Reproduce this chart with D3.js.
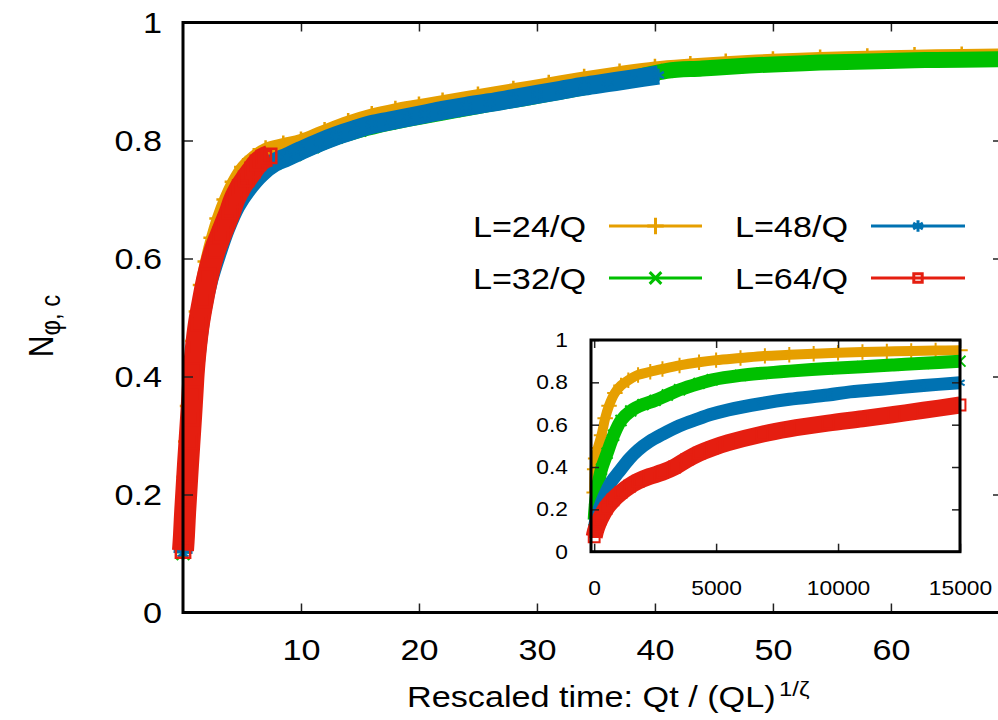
<!DOCTYPE html>
<html><head><meta charset="utf-8">
<script src="https://cdn.jsdelivr.net/npm/d3@7"></script>
<style>
html,body{margin:0;padding:0;background:#fff;}
svg{display:block;font-family:"Liberation Sans",Arial,Helvetica,sans-serif;}
</style></head>
<body>
<svg id="chart" width="998" height="720"></svg>
<script>
// ---------- data ----------
const seriesNames = ["L=24/Q", "L=32/Q", "L=48/Q", "L=64/Q"];
const seriesColors = ["#E69F00", "#00C000", "#0072B2", "#E51E10"];

// main plot: rescaled time vs N
const orangeX = [0, 0.1, 0.22, 0.35, 0.5, 0.7, 0.95, 1.25, 1.6, 2.0, 2.5, 3.0, 3.6, 4.3, 5.1, 6.0, 7.0, 8.5, 10, 12, 14, 16, 18, 20, 22, 25, 28, 31, 34, 37, 40, 43, 46, 50, 54, 58, 62, 66, 70];
const orangeY = [0.11, 0.17, 0.23, 0.29, 0.35, 0.41, 0.46, 0.51, 0.555, 0.595, 0.635, 0.668, 0.70, 0.73, 0.755, 0.772, 0.785, 0.793, 0.8, 0.816, 0.831, 0.843, 0.852, 0.859, 0.866, 0.876, 0.886, 0.896, 0.906, 0.915, 0.923, 0.928, 0.932, 0.936, 0.939, 0.941, 0.943, 0.944, 0.945];

const greenX = [0, 0.1, 0.25, 0.42, 0.62, 0.88, 1.2, 1.6, 2.2, 2.9, 3.7, 4.6, 5.6, 6.6, 7.8, 9.5, 11, 13, 15, 17.5, 20, 23, 26, 29, 32, 35, 38, 41, 44, 47, 50, 54, 58, 62, 66, 70];
const greenY = [0.1, 0.16, 0.22, 0.28, 0.34, 0.4, 0.46, 0.52, 0.57, 0.615, 0.655, 0.695, 0.722, 0.745, 0.762, 0.777, 0.79, 0.806, 0.818, 0.83, 0.84, 0.851, 0.862, 0.872, 0.883, 0.894, 0.905, 0.918, 0.922, 0.926, 0.929, 0.932, 0.934, 0.936, 0.937, 0.938];

const blueX = [0, 0.12, 0.28, 0.45, 0.65, 0.9, 1.2, 1.6, 2.2, 2.9, 3.6, 4.5, 5.5, 6.6, 7.7, 8.8, 10, 11.6, 13, 14.5, 16, 17.5, 19, 20.5, 22, 24, 26, 28, 30, 32, 34, 36, 38, 40.3];
const blueY = [0.1, 0.15, 0.21, 0.27, 0.33, 0.39, 0.45, 0.51, 0.565, 0.61, 0.65, 0.69, 0.72, 0.745, 0.762, 0.772, 0.783, 0.797, 0.808, 0.818, 0.827, 0.833, 0.839, 0.845, 0.851, 0.858, 0.864, 0.871, 0.878, 0.885, 0.892, 0.898, 0.904, 0.911];

const redX = [0, 0.08, 0.18, 0.3, 0.42, 0.55, 0.68, 0.8, 0.92, 1.1, 1.35, 1.7, 2.1, 2.7, 3.2, 3.6, 4.0, 4.35, 4.85, 5.35, 5.9, 6.35, 6.85, 7.3];
const redY = [0.105, 0.13, 0.17, 0.21, 0.25, 0.29, 0.33, 0.37, 0.41, 0.45, 0.49, 0.53, 0.57, 0.614, 0.64, 0.66, 0.68, 0.70, 0.72, 0.735, 0.75, 0.762, 0.77, 0.774];

// inset: raw time vs N
const orangeInT = [0, 20, 60, 150, 300, 450, 610, 850, 1100, 1400, 1800, 2300, 2800, 3500, 4300, 5000, 6000, 7000, 8000, 9000, 10000, 11000, 12000, 13000, 14000, 15000];
const orangeInV = [0.28, 0.39, 0.44, 0.49, 0.55, 0.63, 0.69, 0.75, 0.785, 0.81, 0.835, 0.85, 0.863, 0.88, 0.895, 0.905, 0.915, 0.925, 0.93, 0.935, 0.94, 0.943, 0.946, 0.948, 0.95, 0.952];

const greenInT = [0, 30, 80, 150, 300, 530, 800, 1100, 1500, 2000, 2500, 3000, 3500, 4300, 4840, 6000, 6870, 8000, 9580, 11000, 12280, 13500, 15000];
const greenInV = [0.15, 0.2, 0.26, 0.31, 0.39, 0.465, 0.55, 0.62, 0.665, 0.695, 0.715, 0.74, 0.765, 0.795, 0.812, 0.833, 0.843, 0.853, 0.865, 0.874, 0.882, 0.89, 0.90];

const blueInT = [0, 50, 200, 400, 700, 1000, 1450, 1800, 2260, 2800, 3500, 4200, 4840, 5500, 6870, 8000, 9580, 10500, 12000, 13500, 15000];
const blueInV = [0.1, 0.14, 0.2, 0.26, 0.33, 0.375, 0.44, 0.48, 0.52, 0.555, 0.595, 0.625, 0.65, 0.67, 0.70, 0.72, 0.74, 0.755, 0.77, 0.785, 0.798];

const redInT = [0, 50, 120, 250, 490, 770, 1100, 1450, 1800, 2260, 2800, 3300, 3800, 4300, 4840, 5500, 6870, 8000, 9580, 11000, 12280, 13500, 15000];
const redInV = [0.07, 0.095, 0.12, 0.155, 0.205, 0.245, 0.28, 0.31, 0.333, 0.355, 0.375, 0.40, 0.435, 0.465, 0.49, 0.515, 0.555, 0.58, 0.607, 0.628, 0.648, 0.668, 0.693];

// ticks
const mainXTicks = [10, 20, 30, 40, 50, 60];
const mainYTicks = [0, 0.2, 0.4, 0.6, 0.8, 1];
const insetXTicks = [0, 5000, 10000, 15000];
const insetYTicks = [0, 0.2, 0.4, 0.6, 0.8, 1];

// ---------- drawing ----------
const SX = 1.14; // horizontal glyph stretch seen in reference
const svg = d3.select("#chart");
const tickCol = "#222";

const x = d3.scaleLinear().domain([0, 69.5]).range([183, 1003]);
const y = d3.scaleLinear().domain([0, 1]).range([612.5, 22.5]);
const ix = d3.scaleLinear().domain([-130, 15000]).range([591, 960]);
const iy = d3.scaleLinear().domain([0, 1]).range([551.7, 340]);

const zip = (a, b) => a.map((v, i) => [v, b[i]]);
const mainData = [zip(orangeX, orangeY), zip(greenX, greenY), zip(blueX, blueY), zip(redX, redY)];
const insetData = [zip(orangeInT, orangeInV), zip(greenInT, greenInV), zip(blueInT, blueInV), zip(redInT, redInV)];
const symbolTypes = [d3.symbolPlus, d3.symbolTimes, d3.symbolAsterisk, d3.symbolSquare2];

function styleAxis(g, fontSize, pad, side) {
  g.select(".domain").remove();
  g.selectAll(".tick line").attr("stroke", tickCol).attr("stroke-width", 1.5);
  g.selectAll("text").attr("font-size", fontSize).attr("fill", "#000")
    .attr("font-family", '"Liberation Sans",Arial,sans-serif');
  if (side === "left") {
    g.selectAll("text").attr("x", -pad / SX).attr("transform", `scale(${SX},1)`);
  } else if (side === "bottom") {
    g.selectAll("text").attr("transform", `scale(${SX},1)`);
  }
}

// ----- main plot curves -----
const mainLine = d3.line().x(d => x(d[0])).y(d => y(d[1])).curve(d3.curveCatmullRom);
const mainWidths = [13, 16, 19, 22];
const gMain = svg.append("g");
mainData.forEach((data, i) => {
  gMain.append("path").datum(data).attr("d", mainLine)
    .attr("fill", "none").attr("stroke", seriesColors[i])
    .attr("stroke-width", mainWidths[i]).attr("stroke-linejoin", "round").attr("stroke-linecap", "butt");
  gMain.selectAll(null).data(data).enter().append("path")
    .attr("transform", d => `translate(${x(d[0])},${y(d[1])})`)
    .attr("d", d3.symbol().type(symbolTypes[i]).size(i === 3 ? 260 : 110))
    .attr("fill", "none").attr("stroke", seriesColors[i]).attr("stroke-width", 2.5);
});

// main axes
const axL = svg.append("g").attr("transform", "translate(183,0)")
  .call(d3.axisLeft(y).tickValues(mainYTicks).tickFormat(d3.format("~g")).tickSize(-10).tickPadding(21));
styleAxis(axL, 30, 21, "left");
const axB = svg.append("g").attr("transform", "translate(0,612.5)")
  .call(d3.axisBottom(x).tickValues(mainXTicks).tickFormat(d3.format("~g")).tickSize(-9).tickPadding(26));
styleAxis(axB, 30, 26, "bottom");
const axT = svg.append("g").attr("transform", "translate(0,22.5)")
  .call(d3.axisTop(x).tickValues(mainXTicks).tickFormat("").tickSize(-9));
styleAxis(axT, 30, 0, "top");
const axR = svg.append("g").attr("transform", "translate(1003,0)")
  .call(d3.axisRight(y).tickValues(mainYTicks).tickFormat("").tickSize(-10));
styleAxis(axR, 30, 0, "right");

svg.append("rect").attr("x", 183).attr("y", 22.5).attr("width", 1003 - 183).attr("height", 612.5 - 22.5)
  .attr("fill", "none").attr("stroke", "#000").attr("stroke-width", 3);

// ----- legend -----
const legendRows = [[0, 2], [1, 3]];
const legendLineY = [226, 278];
const legendCols = [{tx: 586, x1: 609, x2: 702}, {tx: 848, x1: 871, x2: 965}];
legendRows.forEach((row, r) => {
  row.forEach((si, c) => {
    const col = legendCols[c];
    const ly = legendLineY[r];
    svg.append("text").attr("transform", `translate(${col.tx},${ly + 11}) scale(${SX},1)`)
      .attr("text-anchor", "end").attr("font-size", 30).text(seriesNames[si]);
    svg.append("line").attr("x1", col.x1).attr("x2", col.x2).attr("y1", ly).attr("y2", ly)
      .attr("stroke", seriesColors[si]).attr("stroke-width", 3);
    svg.append("path").attr("transform", `translate(${(col.x1 + col.x2) / 2},${ly})`)
      .attr("d", d3.symbol().type(symbolTypes[si]).size(90))
      .attr("fill", "none").attr("stroke", seriesColors[si]).attr("stroke-width", 3);
  });
});

// ----- inset -----
svg.append("rect").attr("x", 591).attr("y", 340).attr("width", 960 - 591).attr("height", 551.7 - 340)
  .attr("fill", "#fff");
const insetLine = d3.line().x(d => ix(d[0])).y(d => iy(d[1])).curve(d3.curveCatmullRom);
const insetWidths = [10, 13, 13, 17];
insetData.forEach((data, i) => {
  svg.append("path").datum(data).attr("d", insetLine)
    .attr("fill", "none").attr("stroke", seriesColors[i])
    .attr("stroke-width", insetWidths[i]).attr("stroke-linejoin", "round");
  svg.selectAll(null).data(data).enter().append("path")
    .attr("transform", d => `translate(${ix(d[0])},${iy(d[1])})`)
    .attr("d", d3.symbol().type(symbolTypes[i]).size(i === 3 ? 150 : 80))
    .attr("fill", "none").attr("stroke", seriesColors[i]).attr("stroke-width", 2);
});
const iL = svg.append("g").attr("transform", "translate(591,0)")
  .call(d3.axisLeft(iy).tickValues(insetYTicks).tickFormat(d3.format("~g")).tickSize(-8).tickPadding(23));
styleAxis(iL, 20, 23, "left");
const iB = svg.append("g").attr("transform", "translate(0,551.7)")
  .call(d3.axisBottom(ix).tickValues(insetXTicks).tickFormat(d3.format("d")).tickSize(-8).tickPadding(29));
styleAxis(iB, 20, 29, "bottom");
const iT = svg.append("g").attr("transform", "translate(0,340)")
  .call(d3.axisTop(ix).tickValues(insetXTicks).tickFormat("").tickSize(-8));
styleAxis(iT, 20, 0, "top");
const iR = svg.append("g").attr("transform", "translate(960,0)")
  .call(d3.axisRight(iy).tickValues(insetYTicks).tickFormat("").tickSize(-8));
styleAxis(iR, 20, 0, "right");
svg.append("rect").attr("x", 591).attr("y", 340).attr("width", 960 - 591).attr("height", 551.7 - 340)
  .attr("fill", "none").attr("stroke", "#000").attr("stroke-width", 3);

// ----- axis titles -----
const xt = svg.append("text").attr("transform", `translate(407,707) scale(${SX},1)`)
  .attr("font-size", 30).attr("text-anchor", "start");
xt.append("tspan").text("Rescaled time: Qt / (QL)");
xt.append("tspan").attr("font-size", 21).attr("dy", -11).attr("dx", 3).text("1/ζ");

const yt = svg.append("text").attr("transform", `translate(53,326) scale(${SX},1) rotate(-90)`)
  .attr("font-size", 30).attr("text-anchor", "middle");
yt.append("tspan").text("N");
yt.append("tspan").attr("font-size", 24).attr("dy", 6).text("φ, c");
</script>
</body></html>
